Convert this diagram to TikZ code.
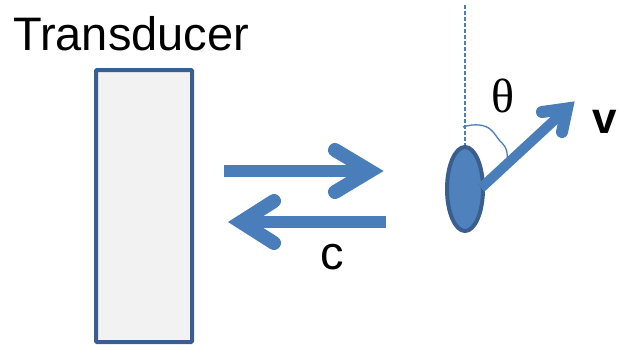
\documentclass[tikz,border=0pt]{standalone}
\usepackage{fontspec}
\usetikzlibrary{shapes.geometric}
\setmainfont{Liberation Sans}
\newfontfamily\serifgreek{Liberation Serif}
\definecolor{arrowblue}{HTML}{4A7EBB}
\definecolor{darkblue}{HTML}{3A5F8F}
\definecolor{panelgray}{HTML}{F2F2F2}
\definecolor{ellfill}{HTML}{4F81BD}
\begin{document}
\begin{tikzpicture}[x=1pt,y=-1pt,
  fatarrow/.style={arrowblue,line width=12pt,line cap=butt},
  fathead/.style={arrowblue,line width=14pt,line cap=round,line join=miter},
  label/.style={inner sep=0pt,font=\fontsize{47}{50}\selectfont}]
\useasboundingbox (0,0) rectangle (619,346);
% transducer
\node[label,anchor=base west] (title) at (13,50) {Transducer};
\draw[darkblue,line width=4pt,fill=panelgray,rounded corners=1pt] (96,70) rectangle (192,342);
% right arrow
\coordinate (r0) at (224,171);
\coordinate (rt) at (370,171);
\draw[fatarrow] (r0) -- (rt);
\draw[fathead] (335,150) -- (rt) -- (335,192);
% left arrow
\coordinate (l0) at (386,222);
\coordinate (lt) at (241,222);
\draw[fatarrow] (l0) -- (lt);
\draw[fathead] (274,201) -- (lt) -- (274,243);
\node[label] (c) at (332,257) {c};
% scatterer
\draw[arrowblue,line width=1.3pt,dash pattern=on 4pt off 2pt] (465,5) -- (465,147);
\node[ellipse,draw=darkblue,line width=4pt,fill=ellfill,minimum width=36pt,minimum height=84pt,inner sep=0pt] (e) at (465,189) {};
% angle arc
\draw[arrowblue,line width=1.3pt] (463,127) .. controls (475,123) and (485,125) .. (490,129) .. controls (496,134) and (498,140) .. (502,143) .. controls (507,148) and (508,153) .. (507,162);
% velocity arrow
\coordinate (v0) at (481,188);
\coordinate (vt) at (567,108.5);
\draw[fatarrow,line width=10pt] (v0) -- (vt);
\draw[fathead,line width=12pt] (542,112) -- (vt) -- (562,132);
\node[inner sep=0pt,font=\serifgreek\fontsize{48}{50}\selectfont] (theta) at (503,96) {θ};
\node[inner sep=0pt,font=\bfseries\fontsize{44}{50}\selectfont,anchor=base] (v) at (605,133) {v};
\end{tikzpicture}
\end{document}
